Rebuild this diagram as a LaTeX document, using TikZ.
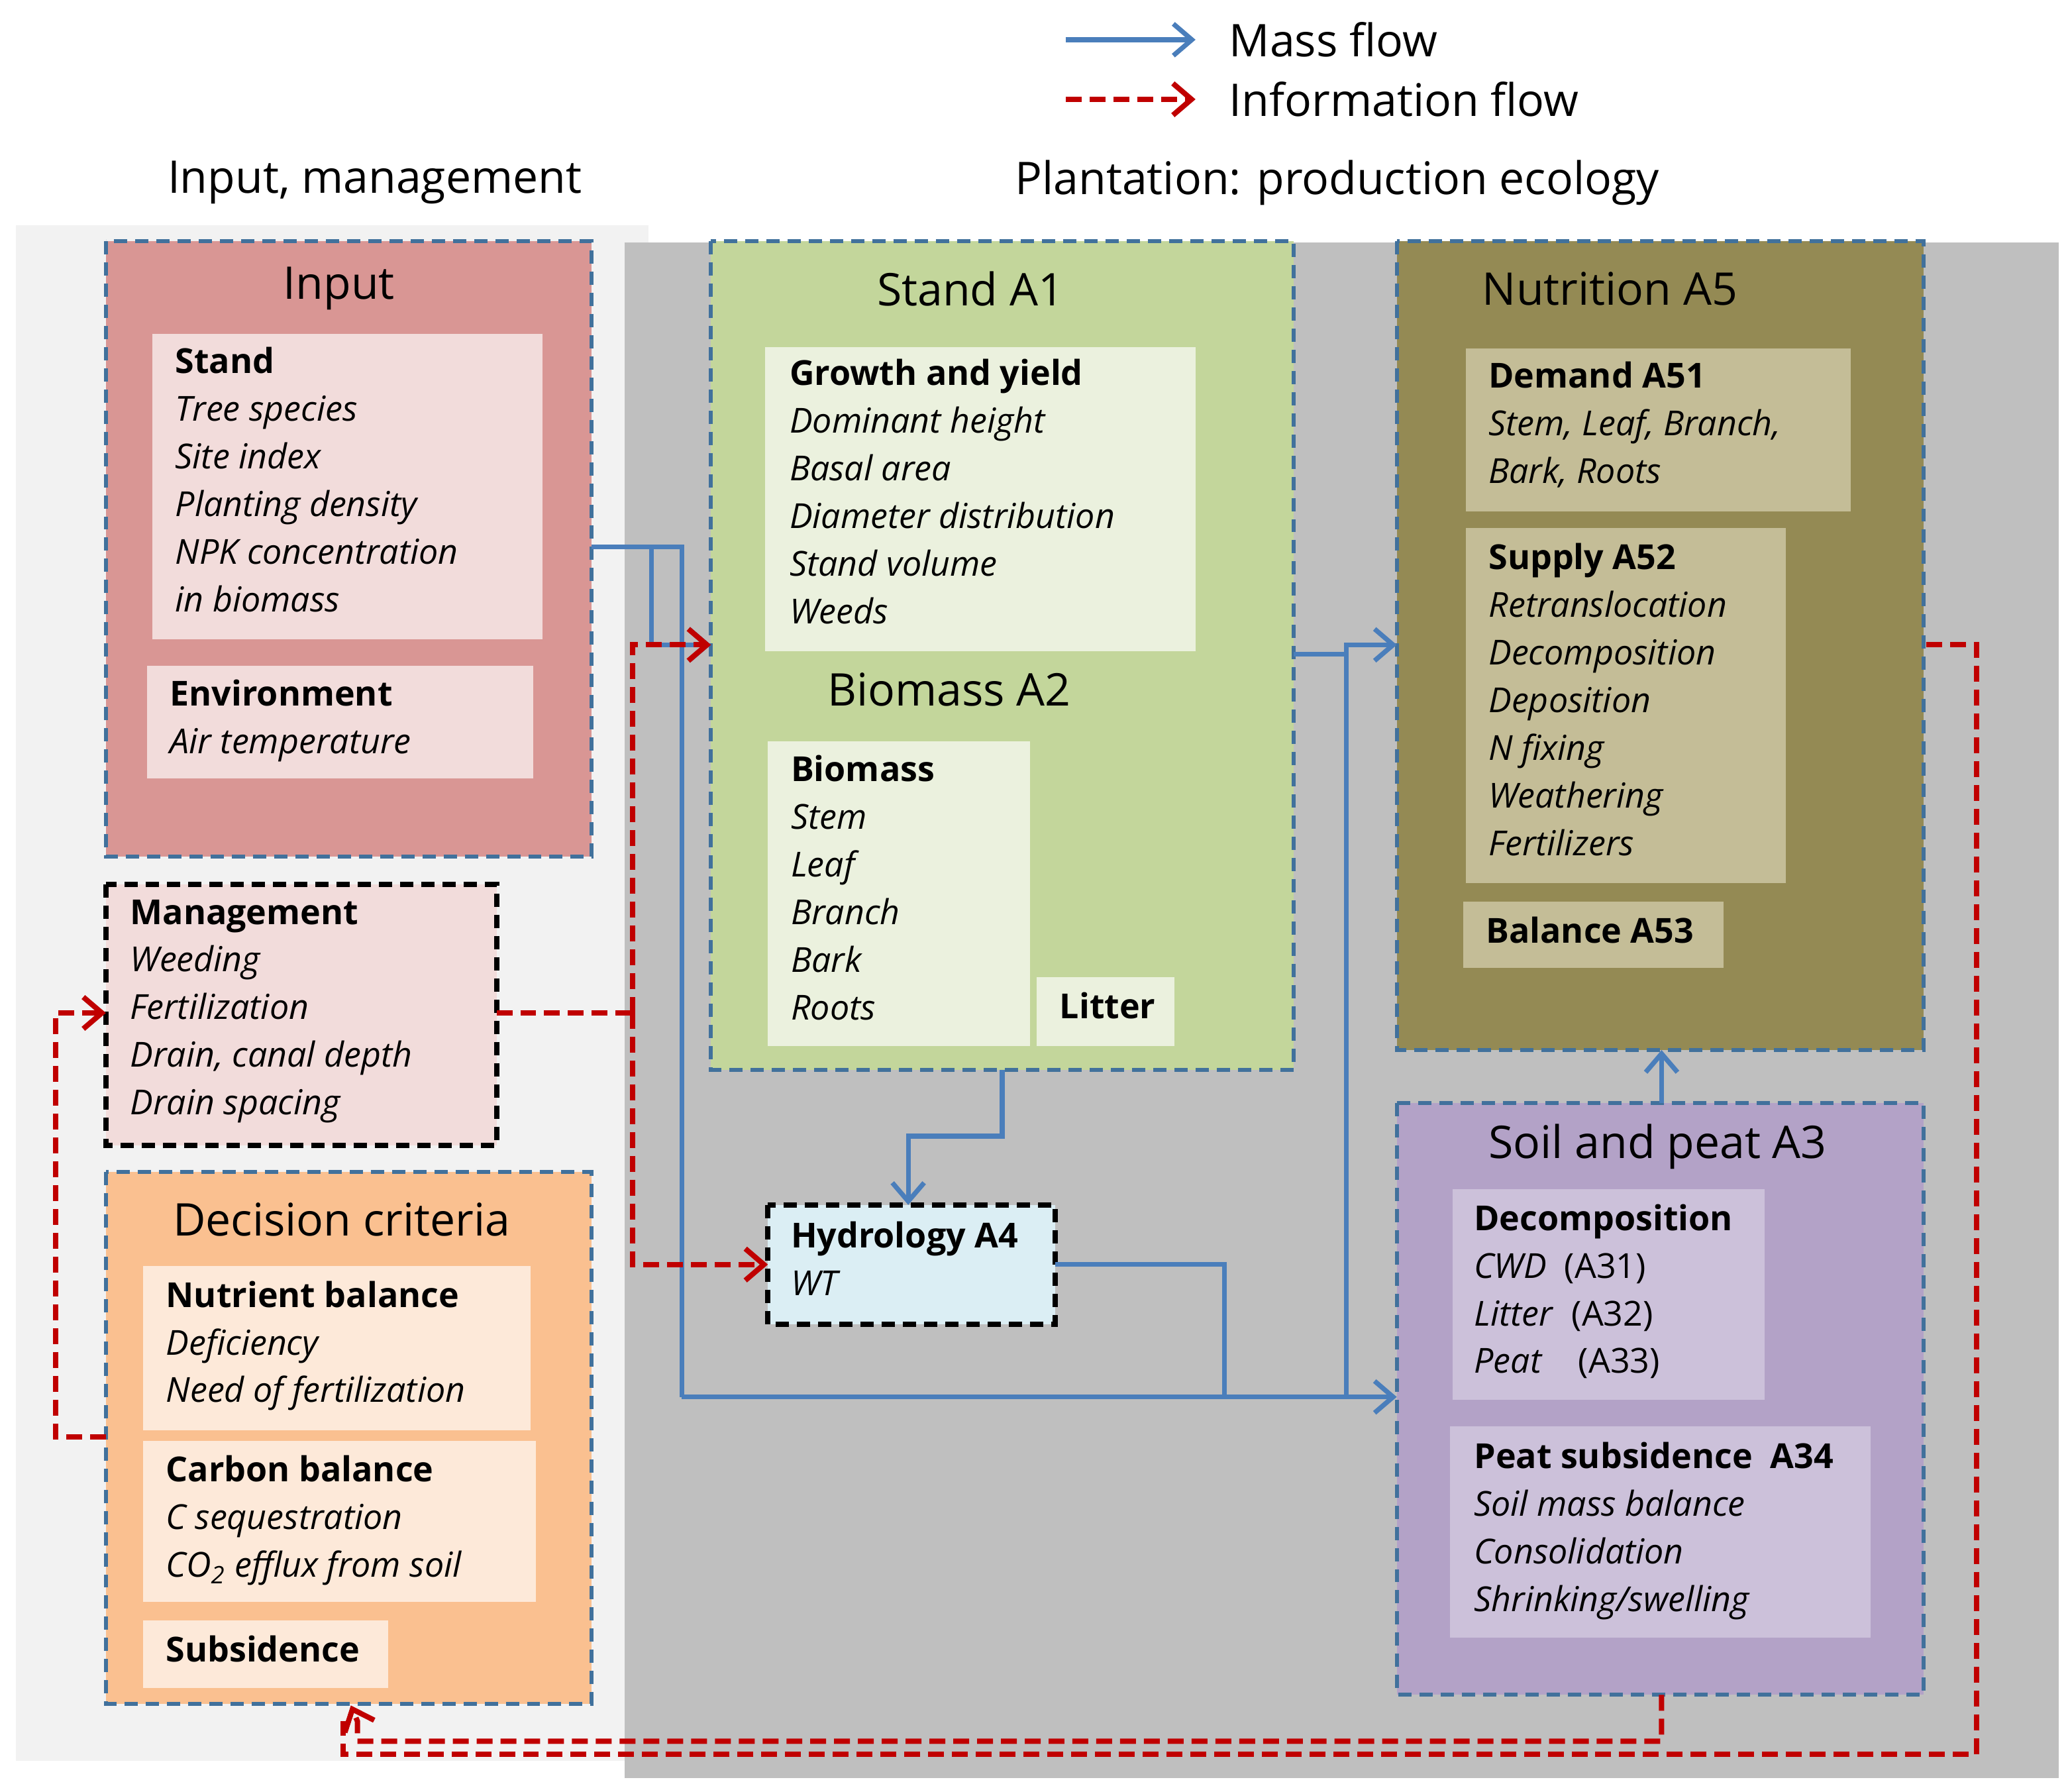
\documentclass[tikz,border=0pt]{standalone}
\usepackage{fontspec}
\setmainfont{Open Sans}
\usetikzlibrary{arrows.meta}
\definecolor{bord}{HTML}{41719C}
\definecolor{mflow}{HTML}{4A7EBB}
\definecolor{iflow}{HTML}{C00000}
\tikzset{
 box/.style={draw=bord,dash pattern=on 5pt off 3pt,line width=1.5pt},
 bbox/.style={draw=black,dash pattern=on 5pt off 3pt,line width=2pt},
 txt/.style={anchor=north west,inner sep=0pt,align=left,font=\fontsize{13}{18}\selectfont},
 ttl/.style={inner sep=0pt,font=\fontsize{17}{20}\selectfont},
 mass/.style={draw=mflow,line width=1.8pt,-{Straight Barb[length=7pt,width=12pt]}},
 massl/.style={draw=mflow,line width=1.8pt},
 info/.style={draw=iflow,line width=2pt,dash pattern=on 6pt off 3pt,-{Straight Barb[length=7pt,width=12pt]}},
 infol/.style={draw=iflow,line width=2pt,dash pattern=on 6pt off 3pt},
}
\begin{document}
\begin{tikzpicture}[x=0.5pt,y=-0.5pt]
\useasboundingbox (0,0) rectangle (1562,1353);
\fill[white] (0,0) rectangle (1562,1353);
\fill[black!5] (12,170) rectangle (490,1330);
\fill[black!25] (472,183) rectangle (1555,1343);
% legend
\draw[mass] (805,30) -- (903,30);
\draw[info] (805,75) -- (903,75);
\node[anchor=west,ttl] (lm) at (928,30) {Mass flow};
\node[anchor=west,ttl] (li) at (928,75) {Information flow};
\node[ttl] (h1) at (283,138) {Input, management};
\node[ttl] (h2) at (1010,138) {Plantation: production ecology};
% Input
\draw[box,fill={rgb,255:red,217;green,150;blue,148}] (80,182) rectangle (447,647);
\node[ttl] (tin) at (256,218) {Input};
\fill[fill={rgb,255:red,242;green,220;blue,219}] (115,252) rectangle (410,483);
\node[txt] (tst) at (132,262) {\textbf{Stand}\\\textit{Tree species}\\\textit{Site index}\\\textit{Planting density}\\\textit{NPK concentration}\\\textit{in biomass}};
\fill[fill={rgb,255:red,242;green,220;blue,219}] (111,503) rectangle (403,588);
\node[txt] (tenv) at (128,513) {\textbf{Environment}\\\textit{Air temperature}};
% Management
\draw[bbox,fill={rgb,255:red,242;green,220;blue,219}] (80,668) rectangle (375,865);
\node (man) at (227,766) {};
\node[txt] (tman) at (98,679) {\textbf{Management}\\\textit{Weeding}\\\textit{Fertilization}\\\textit{Drain, canal depth}\\\textit{Drain spacing}};
% Decision
\draw[box,fill={rgb,255:red,250;green,192;blue,144}] (80,885) rectangle (447,1287);
\node[ttl] (tdc) at (258,921) {Decision criteria};
\fill[fill={rgb,255:red,253;green,233;blue,217}] (108,956) rectangle (401,1080);
\node[txt] (tnb) at (125,967) {\textbf{Nutrient balance}\\\textit{Deficiency}\\\textit{Need of fertilization}};
\fill[fill={rgb,255:red,253;green,233;blue,217}] (108,1088) rectangle (405,1210);
\node[txt] (tcb) at (125,1099) {\textbf{Carbon balance}\\\textit{C sequestration}\\\textit{CO\textsubscript{2} efflux from soil}};
\fill[fill={rgb,255:red,253;green,233;blue,217}] (108,1224) rectangle (293,1275);
\node[txt] (tsub) at (125,1235) {\textbf{Subsidence}};
% Stand A1
\draw[box,fill={rgb,255:red,195;green,214;blue,155}] (537,182) rectangle (977,808);
\node[ttl] (ta1) at (733,218) {Stand A1};
\fill[fill={rgb,255:red,235;green,241;blue,222}] (578,262) rectangle (903,492);
\node[txt] (tgy) at (596,271) {\textbf{Growth and yield}\\\textit{Dominant height}\\\textit{Basal area}\\\textit{Diameter distribution}\\\textit{Stand volume}\\\textit{Weeds}};
\node[ttl] (ta2) at (717,521) {Biomass A2};
\fill[fill={rgb,255:red,235;green,241;blue,222}] (580,560) rectangle (778,790);
\node[txt] (tbm) at (597,570) {\textbf{Biomass}\\\textit{Stem}\\\textit{Leaf}\\\textit{Branch}\\\textit{Bark}\\\textit{Roots}};
\fill[fill={rgb,255:red,235;green,241;blue,222}] (783,738) rectangle (887,790);
\node[txt] (tlit) at (800,749) {\textbf{Litter}};
% Hydrology
\draw[bbox,fill={rgb,255:red,219;green,238;blue,244}] (580,910) rectangle (797,1000);
\node[txt] (thy) at (597,922) {\textbf{Hydrology A4}\\\textit{WT}};
% Nutrition
\draw[box,fill={rgb,255:red,148;green,138;blue,84}] (1055,182) rectangle (1453,793);
\node[ttl] (ta5) at (1216,218) {Nutrition A5};
\fill[fill={rgb,255:red,196;green,189;blue,151}] (1107,263) rectangle (1398,386);
\node[txt] (tdem) at (1124,273) {\textbf{Demand A51}\\\textit{Stem, Leaf, Branch,}\\\textit{Bark, Roots}};
\fill[fill={rgb,255:red,196;green,189;blue,151}] (1107,399) rectangle (1349,667);
\node[txt] (tsup) at (1124,410) {\textbf{Supply A52}\\\textit{Retranslocation}\\\textit{Decomposition}\\\textit{Deposition}\\\textit{N fixing}\\\textit{Weathering}\\\textit{Fertilizers}};
\fill[fill={rgb,255:red,196;green,189;blue,151}] (1105,681) rectangle (1302,731);
\node[txt] (tbal) at (1122,692) {\textbf{Balance A53}};
% Soil
\draw[box,fill={rgb,255:red,179;green,162;blue,199}] (1055,833) rectangle (1453,1280);
\node[ttl] (ta3) at (1252,866) {Soil and peat A3};
\fill[fill={rgb,255:red,204;green,193;blue,218}] (1097,898) rectangle (1333,1057);
\node[txt] (tdec) at (1113,909) {\textbf{Decomposition}\\\textit{CWD}\ \ (A31)\\\textit{Litter}\ \ (A32)\\\textit{Peat}\ \ \ \ (A33)};
\fill[fill={rgb,255:red,204;green,193;blue,218}] (1095,1077) rectangle (1413,1237);
\node[txt] (tps) at (1113,1089) {\textbf{Peat subsidence\ \ A34}\\\textit{Soil mass balance}\\\textit{Consolidation}\\\textit{Shrinking/swelling}};
% mass flows
\coordinate (inR) at (447,413);
\draw[massl] (inR) -- (515,413) -- (515,1055);
\draw[mass] (515,1055) -- (1055,1055);
\draw[mass] (inR) -- (492,413) -- (492,487) -- (537,487);
\draw[massl] (977,494) -- (1017,494);
\draw[mass] (1017,1055) -- (1017,487) -- (1055,487);
\draw[massl] (797,955) -- (925,955) -- (925,1055);
\draw[mass] (757,808) -- (757,858) -- (686,858) -- (686,910);
\draw[mass] (1255,833) -- (1255,793);
% info flows
\draw[infol] (375,765) -- (478,765);
\draw[info] (478,765) -- (478,487) -- (537,487);
\draw[info] (478,765) -- (478,955) -- (580,955);
\draw[info] (80,1085) -- (42,1085) -- (42,765) -- (80,765);
\draw[infol] (1455,487) -- (1493,487) -- (1493,1325) -- (259,1325) -- (259,1300);
\draw[info] (1255,1280) -- (1255,1315) -- (270,1315) -- (270,1300) -- (265,1288);
\end{tikzpicture}
\end{document}
